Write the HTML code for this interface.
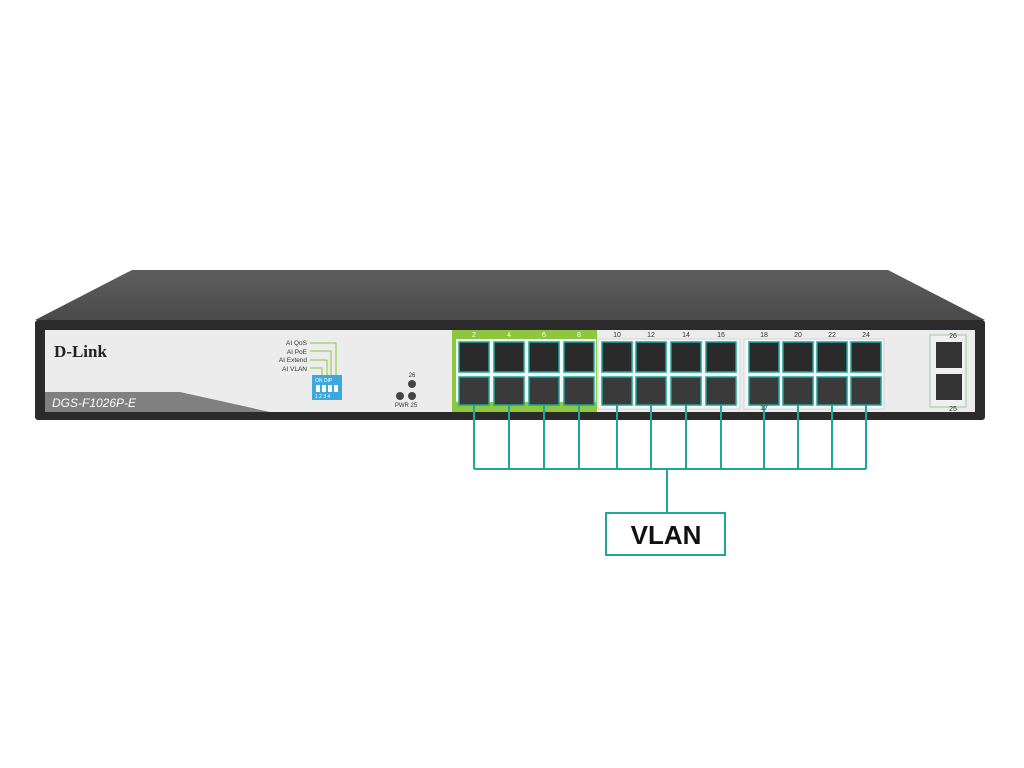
<!DOCTYPE html>
<html><head><meta charset="utf-8"><style>
body{margin:0;width:1024px;height:768px;background:#fff;position:relative;overflow:hidden;font-family:"Liberation Sans",sans-serif}
.a{position:absolute}
</style></head><body>
<svg class="a" style="left:0;top:0" width="1024" height="768">
<defs>
<linearGradient id="lid" x1="0" y1="0" x2="0" y2="1"><stop offset="0" stop-color="#5e5e5e"/><stop offset="1" stop-color="#4a4a4a"/></linearGradient>
</defs>
<polygon points="132,270 888,270 985,320 35,320" fill="url(#lid)"/>
<rect x="35" y="320" width="950" height="100" rx="3" fill="#2b2b2b"/>
<rect x="45" y="330" width="930" height="82" fill="#ececec"/>
<polygon points="45,392 180,392 270,412 45,412" fill="#808080"/>
<rect x="452" y="330" width="145" height="82" fill="#8dc63f"/>
<rect x="456" y="339" width="140" height="63" fill="#f4f4f4"/>
<rect x="598" y="339" width="142" height="70" fill="#f4f4f4" stroke="#bbb" stroke-width="0.5"/>
<rect x="744" y="339" width="140" height="70" fill="#f4f4f4" stroke="#bbb" stroke-width="0.5"/>
<rect x="930" y="335" width="36" height="72" fill="#f0f0f0" stroke="#9c9"/>
<rect x="936" y="342" width="26" height="26" fill="#333"/>
<rect x="936" y="374" width="26" height="26" fill="#333"/>
<rect x="312" y="375" width="30" height="25" fill="#3da8e0"/>
<g fill="#fff"><rect x="316" y="385" width="4" height="7"/><rect x="322" y="385" width="4" height="7"/><rect x="328" y="385" width="4" height="7"/><rect x="334" y="385" width="4" height="7"/></g>
<g font-size="5" fill="#fff"><text x="315" y="382">ON  DIP</text><text x="315" y="398">1 2 3 4</text></g>
<g fill="#444"><circle cx="412" cy="384" r="4"/><circle cx="400" cy="396" r="4"/><circle cx="412" cy="396" r="4"/></g>
<g stroke="#8dc63f" fill="none" stroke-width="1"><path d="M310,343 H336 V375"/><path d="M310,351 H331 V375"/><path d="M310,360 H327 V375"/><path d="M310,368 H322 V375"/></g>
<g fill="#2a2a2a" stroke="#1fa59a" stroke-width="1.5">
<rect x="459" y="342" width="30" height="30"/><rect x="494" y="342" width="30" height="30"/><rect x="529" y="342" width="30" height="30"/><rect x="564" y="342" width="30" height="30"/>
<rect x="602" y="342" width="30" height="30"/><rect x="636" y="342" width="30" height="30"/><rect x="671" y="342" width="30" height="30"/><rect x="706" y="342" width="30" height="30"/>
<rect x="749" y="342" width="30" height="30"/><rect x="783" y="342" width="30" height="30"/><rect x="817" y="342" width="30" height="30"/><rect x="851" y="342" width="30" height="30"/>
</g>
<g fill="#3a3a3a" stroke="#1fa59a" stroke-width="1.5">
<rect x="459" y="377" width="30" height="28"/><rect x="494" y="377" width="30" height="28"/><rect x="529" y="377" width="30" height="28"/><rect x="564" y="377" width="30" height="28"/>
<rect x="602" y="377" width="30" height="28"/><rect x="636" y="377" width="30" height="28"/><rect x="671" y="377" width="30" height="28"/><rect x="706" y="377" width="30" height="28"/>
<rect x="749" y="377" width="30" height="28"/><rect x="783" y="377" width="30" height="28"/><rect x="817" y="377" width="30" height="28"/><rect x="851" y="377" width="30" height="28"/>
</g>
<g stroke="#1fa59a" stroke-width="2" fill="none">
<path d="M474,405V469M509,405V469M544,405V469M579,405V469M617,405V469M651,405V469M686,405V469M721,405V469M764,405V469M798,405V469M832,405V469M866,405V469"/>
<path d="M474,469H866M667,469V513"/>
<rect x="606" y="513" width="119" height="42"/>
</g>
<g font-size="7" fill="#fff" text-anchor="middle"><text x="474" y="337">2</text><text x="509" y="337">4</text><text x="544" y="337">6</text><text x="579" y="337">8</text></g>
<g font-size="7" fill="#333" text-anchor="middle"><text x="617" y="337">10</text><text x="651" y="337">12</text><text x="686" y="337">14</text><text x="721" y="337">16</text><text x="764" y="337">18</text><text x="798" y="337">20</text><text x="832" y="337">22</text><text x="866" y="337">24</text><text x="764" y="410">17</text><text x="953" y="338">26</text><text x="953" y="411">25</text><text x="412" y="377" font-size="6">26</text><text x="406" y="407" font-size="6">PWR 25</text></g>
<g font-size="6.5" fill="#333" text-anchor="end"><text x="307" y="345">AI QoS</text><text x="307" y="354">AI PoE</text><text x="307" y="362">AI Extend</text><text x="307" y="371">AI VLAN</text></g>
<text x="54" y="357" font-family="Liberation Serif,serif" font-weight="bold" font-size="17" fill="#222">D-Link</text>
<text x="52" y="407" font-style="italic" font-size="12" fill="#fff">DGS-F1026P-E</text>
<text x="666" y="544" font-weight="bold" font-size="26" fill="#111" text-anchor="middle">VLAN</text>
</svg>
</body></html>
